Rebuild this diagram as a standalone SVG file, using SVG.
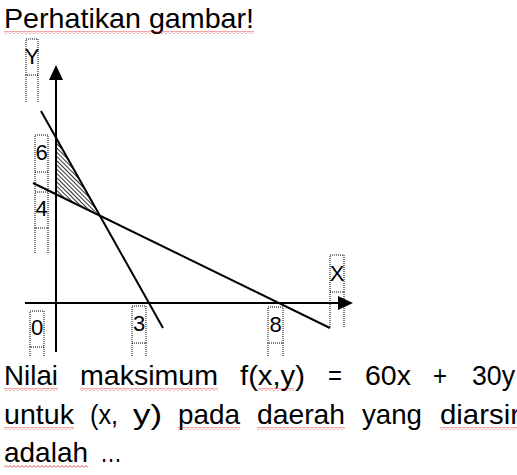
<svg xmlns="http://www.w3.org/2000/svg" width="517" height="475" viewBox="0 0 517 475">
<style>
text{font-family:"Liberation Sans",Arial,sans-serif;fill:#000}
.t{font-size:28px}
.lb{font-size:22px;text-anchor:middle}
.ax{stroke:#000;stroke-width:2;fill:none}
.ln{stroke:#000;stroke-width:2;fill:none}
.bx{stroke:#000;stroke-width:1;stroke-dasharray:1 1;fill:none}
</style>
<defs>
<pattern id="hatch" width="3" height="3" patternUnits="userSpaceOnUse" patternTransform="rotate(45)">
<line x1="0" y1="1.5" x2="3" y2="1.5" stroke="#000" stroke-width="0.8"/>
</pattern>
<pattern id="wave" width="4" height="3" patternUnits="userSpaceOnUse">
<path d="M0,2.5 L2,0.5 L4,2.5" stroke="#e02020" stroke-width="0.8" fill="none"/>
</pattern>
</defs>
<g id="title">
<text class="t" x="4" y="28" textLength="250" lengthAdjust="spacingAndGlyphs">Perhatikan gambar!</text>
<rect x="4" y="31" width="250" height="3" fill="url(#wave)"/>
</g>
<g id="region">
<polygon points="56,137 56,194 100,214" fill="url(#hatch)"/>
</g>
<g id="connectors">
<line class="ax" x1="56" y1="78" x2="56" y2="352"/>
<polygon points="56,65 49,80 63,80" fill="#000"/>
<line class="ax" x1="25" y1="303" x2="340" y2="303"/>
<polygon points="353,303 338,296 338,310" fill="#000"/>
<line class="ln" x1="41" y1="111" x2="163" y2="328"/>
<line class="ln" x1="33" y1="183" x2="330" y2="328"/>
</g>
<g id="label-Y">
<rect class="bx" x="26" y="39" width="12" height="36"/>
<path class="bx" d="M26,75 V103 M38,75 V103"/>
<text class="lb" x="32" y="64">Y</text>
</g>
<g id="label-6">
<rect class="bx" x="35" y="135" width="13" height="37"/>
<path class="bx" d="M35,172 V191 M48,172 V191"/>
<text class="lb" x="41.5" y="160">6</text>
</g>
<g id="label-4">
<rect class="bx" x="35" y="192" width="13" height="36"/>
<path class="bx" d="M35,228 V254 M48,228 V254"/>
<text class="lb" x="41.5" y="216">4</text>
</g>
<g id="label-0">
<rect class="bx" x="30" y="311" width="14" height="36"/>
<path class="bx" d="M30,347 V356 M44,347 V356"/>
<text class="lb" x="37" y="335">0</text>
</g>
<g id="label-3">
<rect class="bx" x="132" y="306" width="14" height="37"/>
<path class="bx" d="M132,343 V356 M146,343 V356"/>
<text class="lb" x="139" y="331">3</text>
</g>
<g id="label-8">
<rect class="bx" x="268" y="307" width="15" height="36"/>
<path class="bx" d="M268,343 V356 M283,343 V356"/>
<text class="lb" x="275.5" y="332">8</text>
</g>
<g id="label-X">
<rect class="bx" x="330" y="255" width="14" height="37"/>
<path class="bx" d="M330,292 V327 M344,292 V327"/>
<text class="lb" x="337" y="281">X</text>
</g>
<g id="question">
<text class="t" x="4" y="385" textLength="54" lengthAdjust="spacingAndGlyphs">Nilai</text>
<text class="t" x="80" y="385" textLength="138" lengthAdjust="spacingAndGlyphs">maksimum</text>
<text class="t" x="240" y="385" textLength="65" lengthAdjust="spacingAndGlyphs">f(x,y)</text>
<text class="t" x="328" y="385" textLength="14" lengthAdjust="spacingAndGlyphs">=</text>
<text class="t" x="365" y="385" textLength="46" lengthAdjust="spacingAndGlyphs">60x</text>
<text class="t" x="433" y="385" textLength="14" lengthAdjust="spacingAndGlyphs">+</text>
<text class="t" x="472" y="385" textLength="43" lengthAdjust="spacingAndGlyphs">30y</text>
<text class="t" x="4" y="424" textLength="70" lengthAdjust="spacingAndGlyphs">untuk</text>
<text class="t" x="90" y="424" textLength="28" lengthAdjust="spacingAndGlyphs">(x,</text>
<text class="t" x="133" y="424" textLength="29" lengthAdjust="spacingAndGlyphs">y)</text>
<text class="t" x="178" y="424" textLength="62" lengthAdjust="spacingAndGlyphs">pada</text>
<text class="t" x="257" y="424" textLength="88" lengthAdjust="spacingAndGlyphs">daerah</text>
<text class="t" x="362" y="424" textLength="60" lengthAdjust="spacingAndGlyphs">yang</text>
<text class="t" x="440" y="424" textLength="80" lengthAdjust="spacingAndGlyphs">diarsir</text>
<text class="t" x="4" y="462" textLength="84" lengthAdjust="spacingAndGlyphs">adalah</text>
<text class="t" x="100" y="462" textLength="22" lengthAdjust="spacingAndGlyphs">…</text>
<rect x="4" y="388" width="54" height="3" fill="url(#wave)"/>
<rect x="80" y="388" width="138" height="3" fill="url(#wave)"/>
<rect x="258" y="388" width="36" height="3" fill="url(#wave)"/>
<rect x="4" y="427" width="70" height="3" fill="url(#wave)"/>
<rect x="178" y="427" width="62" height="3" fill="url(#wave)"/>
<rect x="257" y="427" width="88" height="3" fill="url(#wave)"/>
<rect x="440" y="427" width="77" height="3" fill="url(#wave)"/>
<rect x="4" y="465" width="84" height="3" fill="url(#wave)"/>
</g>
</svg>
